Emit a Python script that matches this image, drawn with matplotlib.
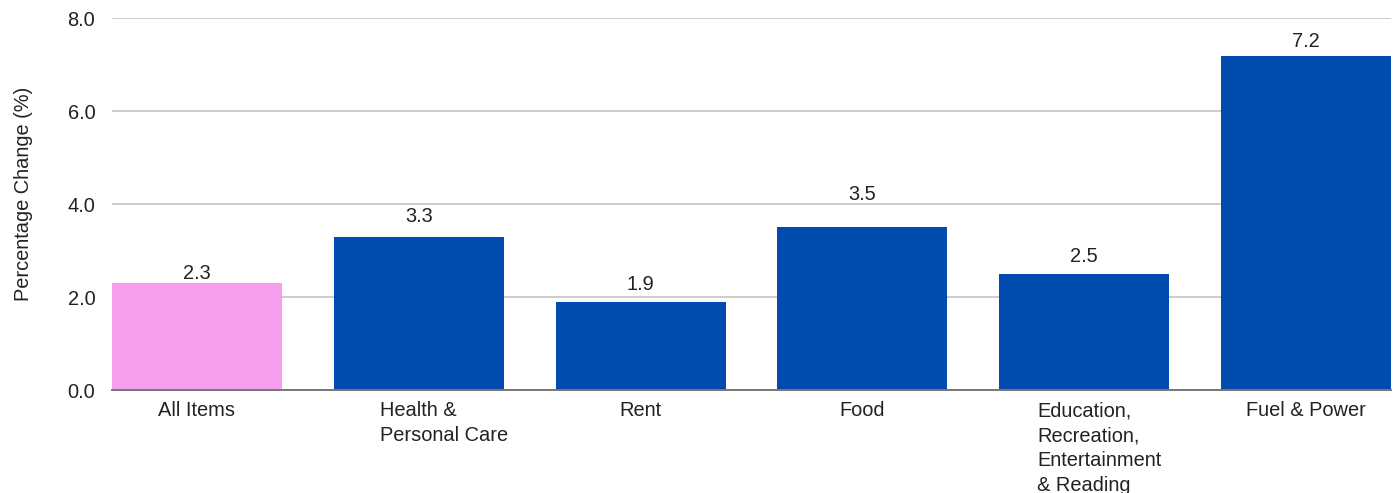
import matplotlib
matplotlib.use('Agg')
import matplotlib.pyplot as plt
import matplotlib.transforms as mtransforms

plt.rcParams['font.family'] = ['Liberation Sans', 'DejaVu Sans']

categories = ['All Items', 'Health &\nPersonal Care', 'Rent', 'Food',
              'Education,\nRecreation,\nEntertainment\n& Reading', 'Fuel & Power']
values = [2.3, 3.3, 1.9, 3.5, 2.5, 7.2]
colors = ['#F49EEC', '#004BAD', '#004BAD', '#004BAD', '#004BAD', '#004BAD']
yticks = [0, 2, 4, 6, 8]

FS = 14.4
TXT = '#222222'

fig = plt.figure(figsize=(13.97, 4.93), dpi=100)
ax = fig.add_axes([0.0802, 0.2089, 0.9155, 0.7536])

width = 170 / 222
x = list(range(len(categories)))
bars = ax.bar(x, values, width=width, color=colors, zorder=2)
ax.set_xlim(-width / 2, len(categories) - 1 + width / 2)
ax.set_ylim(0, 8)

ax.set_yticks(yticks)
ax.set_yticklabels([f'{v:.1f}' for v in yticks], fontsize=FS, color=TXT)
ax.tick_params(axis='y', length=0, pad=12)
ax.set_xticks(x)
ax.set_xticklabels([])
ax.tick_params(axis='x', length=0)
ax.grid(axis='y', color='#cccccc', linewidth=1.4, zorder=0)
for s in ['top', 'right', 'left']:
    ax.spines[s].set_visible(False)
ax.spines['bottom'].set_color('#777777')
ax.spines['bottom'].set_linewidth(1.4)
ax.spines['bottom'].set_zorder(3)

ax.set_ylabel('Percentage Change (%)', fontsize=FS, color=TXT, labelpad=25)
ax.yaxis.label.set_y(0.527)

# value labels above bars (gap to bar top, in points)
pads = [2.9, 10.8, 8.6, 20, 8.6, 6.5]
for b, v, p in zip(bars, values, pads):
    ax.annotate(f'{v}', (b.get_x() + b.get_width() / 2, v), xytext=(0, p),
                textcoords='offset points', ha='center', va='baseline',
                fontsize=FS, color=TXT)

# category labels: first line centred, the rest left-aligned under it
fig.canvas.draw()
renderer = fig.canvas.get_renderer()
line_step = 25
first_base = 26
for xi, lab in zip(x, categories):
    lines = lab.split('\n')
    t = ax.text(0, 0, lines[0], fontsize=FS)
    w = t.get_window_extent(renderer).width
    t.remove()
    for i, line in enumerate(lines):
        trans = mtransforms.offset_copy(ax.get_xaxis_transform(), fig=fig,
                                        x=-w / 2, y=-(first_base + i * line_step),
                                        units='dots')
        ax.text(xi, 0, line, transform=trans, ha='left', va='baseline',
                fontsize=FS, color=TXT)

fig.savefig('out.png', dpi=100)
